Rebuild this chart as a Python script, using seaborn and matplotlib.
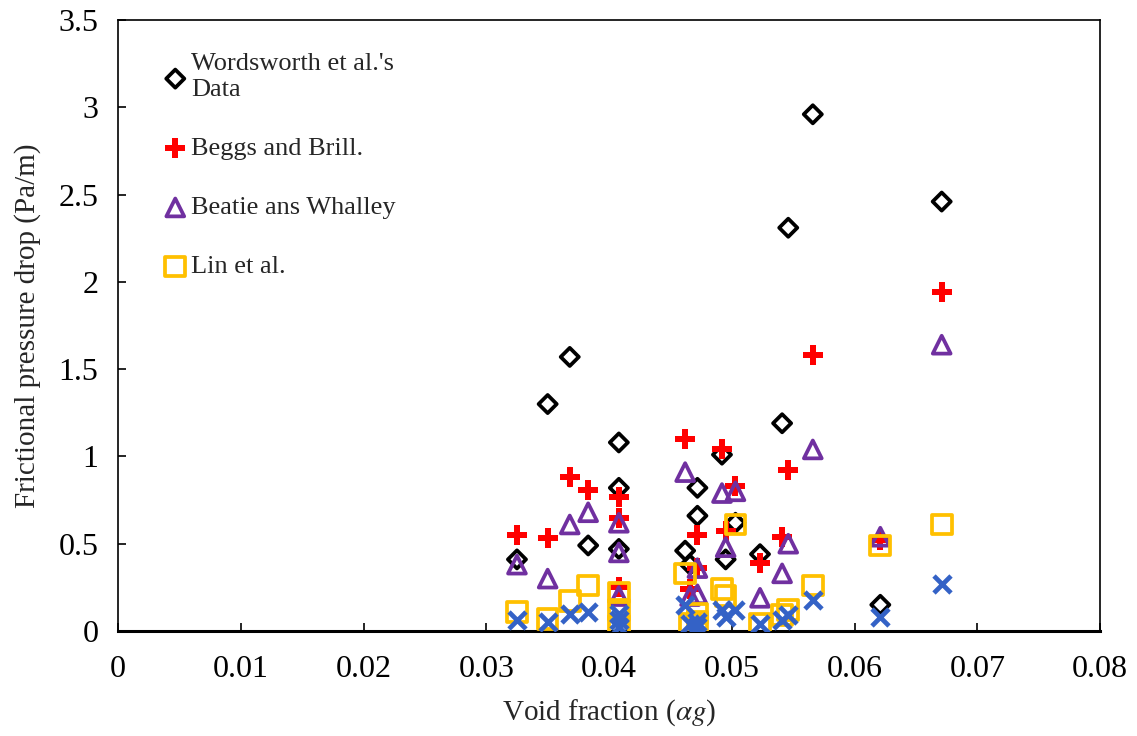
import numpy as np
import pandas as pd
import matplotlib
matplotlib.use('Agg')
import matplotlib.pyplot as plt
import seaborn as sns

# Void fraction values (shared by all series)
void_fraction = [0.0325, 0.0350, 0.0368, 0.0383, 0.0408, 0.0408, 0.0408, 0.0462, 0.0466, 0.0472,
                 0.0472, 0.0492, 0.0495, 0.0503, 0.0523, 0.0541, 0.0546, 0.0566, 0.0621, 0.0671]

# Frictional pressure drop (Pa/m) per series
wordsworth = [0.41, 1.30, 1.57, 0.49, 1.08, 0.82, 0.47, 0.46, 0.38, 0.82,
              0.66, 1.01, 0.41, 0.62, 0.44, 1.19, 2.31, 2.96, 0.15, 2.46]
beggs_brill = [0.55, 0.53, 0.88, 0.81, 0.77, 0.65, 0.25, 1.10, 0.24, 0.55,
               0.36, 1.04, 0.57, 0.83, 0.39, 0.54, 0.92, 1.58, 0.52, 1.94]
beatie_whalley = [0.38, 0.30, 0.61, 0.68, 0.62, 0.45, 0.20, 0.91, 0.20, 0.36,
                  0.21, 0.79, 0.48, 0.80, 0.19, 0.33, 0.50, 1.04, 0.54, 1.64]
lin = [0.11, 0.07, 0.17, 0.26, 0.22, 0.12, 0.03, 0.33, 0.04, 0.10,
       0.05, 0.24, 0.20, 0.61, 0.04, 0.09, 0.12, 0.26, 0.49, 0.61]
other_model = [0.06, 0.05, 0.10, 0.11, 0.10, 0.06, 0.02, 0.15, 0.04, 0.05,
               0.02, 0.12, 0.08, 0.12, 0.04, 0.06, 0.09, 0.18, 0.08, 0.27]

labels = ["Wordsworth et al.'s\nData", "Beggs and Brill.", "Beatie ans Whalley", "Lin et al.", None]

sns.set_style('white')
plt.rcParams['font.family'] = ['Liberation Serif', 'DejaVu Serif']
plt.rcParams['mathtext.fontset'] = 'stix'

fig = plt.figure(figsize=(11.37, 7.36), dpi=100)
ax = fig.add_axes([0.1038, 0.1427, 0.8637, 0.8301])

# open markers and filled markers
styles = [
    dict(y=wordsworth, marker='D', s=85, facecolor='none', edgecolor='black', linewidth=2.7),
    dict(y=beggs_brill, marker='P', s=220, color='#FF0000', linewidth=0),
    dict(y=beatie_whalley, marker='^', s=165, facecolor='none', edgecolor='#7030A0', linewidth=2.7),
    dict(y=lin, marker='s', s=200, facecolor='none', edgecolor='#FFC000', linewidth=2.7),
    dict(y=other_model, marker='x', s=150, color='#3462C6', linewidth=3.4),
]

for st, lab in zip(styles, labels):
    st = dict(st)
    yvals = st.pop('y')
    sns.scatterplot(x=void_fraction, y=yvals, ax=ax, label=lab, zorder=3, **st)

ax.set_xlim(0, 0.08)
ax.set_ylim(0, 3.5)
ax.set_xticks(np.arange(0, 0.081, 0.01))
ax.set_xticklabels(['0', '0.01', '0.02', '0.03', '0.04', '0.05', '0.06', '0.07', '0.08'])
ax.set_yticks(np.arange(0, 3.51, 0.5))
ax.set_yticklabels(['0', '0.5', '1', '1.5', '2', '2.5', '3', '3.5'])
ax.tick_params(direction='in', length=6, width=1.2, labelsize=23, colors='black',
               bottom=True, left=True)
ax.tick_params(axis='y', pad=14)
ax.tick_params(axis='x', pad=17)
for sp in ax.spines.values():
    sp.set_color('black')
    sp.set_linewidth(1.2)
ax.spines['bottom'].set_linewidth(2.2)

ax.set_xlabel(r'Void fraction ($\alpha g$)', fontsize=21, labelpad=10)
ax.set_ylabel('Frictional pressure drop (Pa/m)', fontsize=21, labelpad=13)

handles, labs = ax.get_legend_handles_labels()
leg = ax.legend(handles, labs, loc='upper left', bbox_to_anchor=(0.018, 0.985), frameon=False,
                fontsize=19, labelspacing=1.35, handletextpad=0.0, handlelength=1.2,
                markerscale=1.0)
for t in leg.get_texts():
    t.set_linespacing(1.25)

fig.savefig('out.png', dpi=100)
